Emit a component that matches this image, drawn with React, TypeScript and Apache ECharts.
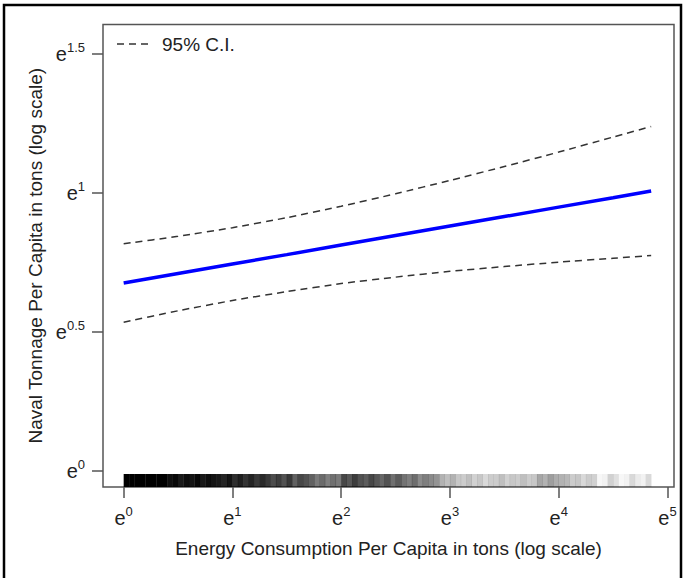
import React, { useEffect, useRef } from "react";
import * as echarts from "echarts";

// ---- data (log scale exponents) ----
const X_VALUES = [0, 0.5, 1, 1.5, 2, 2.5, 3, 3.5, 4, 4.5, 4.85];
const FIT = [0.676, 0.71, 0.744, 0.778, 0.813, 0.847, 0.881, 0.915, 0.949, 0.983, 1.007];
const UPPER = [0.817, 0.844, 0.875, 0.911, 0.952, 0.997, 1.045, 1.095, 1.147, 1.201, 1.239];
const LOWER = [0.535, 0.576, 0.613, 0.645, 0.674, 0.697, 0.718, 0.735, 0.751, 0.765, 0.775];
const X_TICKS = [0, 1, 2, 3, 4, 5];
const Y_TICKS = [0, 0.5, 1, 1.5];
const RUG_BIN = 0.05;
const RUG_DENSITY = [
  1, 1, 1, 1, 1, 1, 1, 1,
  0.94, 0.97, 0.9, 0.95, 0.92, 0.97, 0.9, 0.94, 0.92,
  0.9, 0.86, 0.92,
  0.82, 0.88, 0.8, 0.86, 0.78, 0.84, 0.78,
  0.7, 0.76, 0.68, 0.78, 0.62, 0.72, 0.68,
  0.62, 0.52, 0.58, 0.5, 0.56, 0.52,
  0.72, 0.66, 0.76, 0.68, 0.64, 0.72, 0.66, 0.6, 0.68, 0.56, 0.64,
  0.55, 0.5, 0.57, 0.45, 0.5, 0.46, 0.42,
  0.3, 0.25, 0.3, 0.22,
  0.2, 0.25, 0.18, 0.22, 0.15, 0.2,
  0.2, 0.25, 0.18, 0.22, 0.2, 0.25, 0.2, 0.22,
  0.35, 0.3, 0.38, 0.32, 0.3, 0.28,
  0.2, 0.22, 0.15, 0.2, 0.18,
  0.03, 0.05,
  0.18, 0.12,
  0.03, 0.05,
  0.15,
  0.08, 0.05,
  0.15,
];
const X_MIN = -0.19;
const X_MAX = 5.06;
const Y_MIN = -0.058;
const Y_MAX = 1.606;

const FONT = "'Liberation Sans', Arial, Helvetica, sans-serif";
const TEXT = "#222";
const GRAY = "#555";

const rich = {
  e: { fontSize: 20, lineHeight: 26, fontFamily: FONT, color: TEXT, verticalAlign: "middle" },
  s: { fontSize: 13, lineHeight: 12, fontFamily: FONT, color: TEXT, verticalAlign: "top" },
};
const fmt = (v: number) => `{e|e}{s|${v}}`;

export default function App() {
  const ref = useRef<HTMLDivElement>(null);
  useEffect(() => {
    if (!ref.current) return;
    const chart = echarts.init(ref.current, null, { renderer: "svg" });
    const line = (vals: number[]) => X_VALUES.map((x, i) => [x, vals[i]]);
    chart.setOption({
      animation: false,
      backgroundColor: "#fff",
      grid: {
        left: 103,
        right: 10,
        top: 24.5,
        bottom: 91,
        show: true,
        borderColor: GRAY,
        borderWidth: 1.5,
        backgroundColor: "transparent",
      },
      xAxis: {
        type: "value",
        min: X_MIN,
        max: X_MAX,
        name: "Energy Consumption Per Capita in tons (log scale)",
        nameLocation: "middle",
        nameGap: 52,
        nameTextStyle: { fontSize: 19, fontFamily: FONT, color: TEXT },
        axisLine: { show: false, onZero: false },
        axisTick: {
          show: true,
          customValues: X_TICKS,
          length: 11,
          inside: false,
          lineStyle: { color: GRAY, width: 1.5 },
        },
        axisLabel: {
          customValues: X_TICKS,
          margin: 18,
          formatter: fmt,
          rich,
        },
        splitLine: { show: false },
      },
      yAxis: {
        type: "value",
        min: Y_MIN,
        max: Y_MAX,
        name: "Naval Tonnage Per Capita in tons (log scale)",
        nameLocation: "middle",
        nameGap: 58,
        nameTextStyle: { fontSize: 19, fontFamily: FONT, color: TEXT },
        axisLine: { show: false, onZero: false },
        axisTick: {
          show: true,
          customValues: Y_TICKS,
          length: 11,
          inside: false,
          lineStyle: { color: GRAY, width: 1.5 },
        },
        axisLabel: {
          customValues: Y_TICKS,
          margin: 18,
          formatter: fmt,
          rich,
        },
        splitLine: { show: false },
      },
      graphic: [
        {
          type: "rect",
          shape: { x: 4, y: 5, width: 677, height: 600 },
          style: { fill: "none", stroke: "#000", lineWidth: 2.5 },
          silent: true,
          z: 100,
        },
        {
          type: "line",
          shape: { x1: 117, y1: 44, x2: 150, y2: 44 },
          style: { stroke: "#333", lineWidth: 1.5, lineDash: [7, 5] },
          z: 100,
        },
        {
          type: "text",
          x: 162,
          y: 44,
          style: {
            text: "95% C.I.",
            fontSize: 19,
            fontFamily: FONT,
            fill: TEXT,
            verticalAlign: "middle",
            align: "left",
          },
          z: 100,
        },
      ],
      series: [
        {
          type: "custom",
          name: "rug",
          silent: true,
          data: RUG_DENSITY.map((d, i) => [i * RUG_BIN, d]),
          renderItem: (params: any, api: any) => {
            const x0 = api.value(0);
            const d = api.value(1);
            const p0 = api.coord([x0, Y_MIN]);
            const p1 = api.coord([x0 + RUG_BIN, Y_MIN]);
            return {
              type: "rect",
              shape: { x: p0[0], y: p0[1] - 13, width: p1[0] - p0[0] + 0.3, height: 13 },
              style: { fill: `rgba(0,0,0,${d})` },
            };
          },
          z: 1,
        },
        {
          type: "line",
          name: "upper",
          data: line(UPPER),
          symbol: "none",
          smooth: 0.2,
          lineStyle: { color: "#333", width: 1.5, type: [7, 5] },
          z: 2,
        },
        {
          type: "line",
          name: "lower",
          data: line(LOWER),
          symbol: "none",
          smooth: 0.2,
          lineStyle: { color: "#333", width: 1.5, type: [7, 5] },
          z: 2,
        },
        {
          type: "line",
          name: "fit",
          data: line(FIT),
          symbol: "none",
          lineStyle: { color: "#0000ff", width: 3.5 },
          z: 3,
        },
      ],
    });
    return () => chart.dispose();
  }, []);
  return (
    <div
      ref={ref}
      style={{ position: "fixed", left: 0, top: 0, width: 684, height: 578 }}
    />
  );
}
